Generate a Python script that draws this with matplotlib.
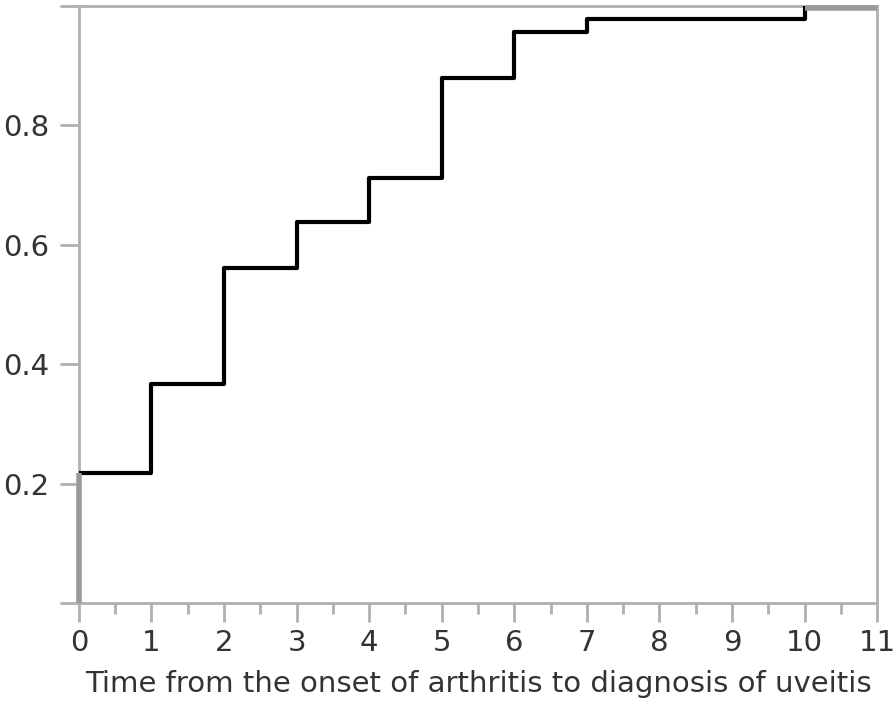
import numpy as np
import matplotlib
matplotlib.use('Agg')
import matplotlib.pyplot as plt
from matplotlib.ticker import MultipleLocator

# cumulative proportion at each year (step after each time point)
times = [0, 1, 2, 3, 4, 5, 6, 7, 10, 11]
cum_prop = [0.218, 0.366, 0.561, 0.637, 0.711, 0.878, 0.955, 0.978, 1.0, 1.0]

xticks = list(range(0, 12))
yticks = [0.0, 0.2, 0.4, 0.6, 0.8, 1.0]
ytick_labels = ['', '0.2', '0.4', '0.6', '0.8', '']

grey = '#b0b0b0'
text_col = '#333333'

fig = plt.figure(figsize=(8.96, 7.02), dpi=100)
ax = fig.add_axes([0.088, 0.141, 0.891, 0.851])

# initial jump at time 0 and final tail drawn in grey
ax.plot([times[0], times[0]], [0, cum_prop[0]], color='#999999', lw=4,
        zorder=4, clip_on=False, solid_capstyle='butt')
ax.step(times[:-1], cum_prop[:-1], where='post', color='black', lw=3, zorder=3)
ax.plot(times[-2:], [v - 0.004 for v in cum_prop[-2:]], color='#999999', lw=4,
        zorder=4, clip_on=False, solid_capstyle='butt')

ax.set_xlim(0, 11)
ax.set_ylim(0, 1.0)
ax.set_xticks(xticks)
ax.xaxis.set_minor_locator(MultipleLocator(0.5))
ax.set_yticks(yticks)
ax.set_yticklabels(ytick_labels)

for s in ax.spines.values():
    s.set_color(grey)
    s.set_linewidth(2)
ax.tick_params(axis='both', which='major', length=14, width=2, color=grey,
               labelsize=21, labelcolor=text_col)
ax.tick_params(axis='y', which='major', pad=7)
ax.tick_params(axis='x', which='major', pad=5)
ax.tick_params(axis='x', which='minor', length=8, width=2, color=grey)
ax.set_xlabel('Time from the onset of arthritis to diagnosis of uveitis',
              fontsize=21, color=text_col, labelpad=9)

fig.savefig('out.png', dpi=100)
